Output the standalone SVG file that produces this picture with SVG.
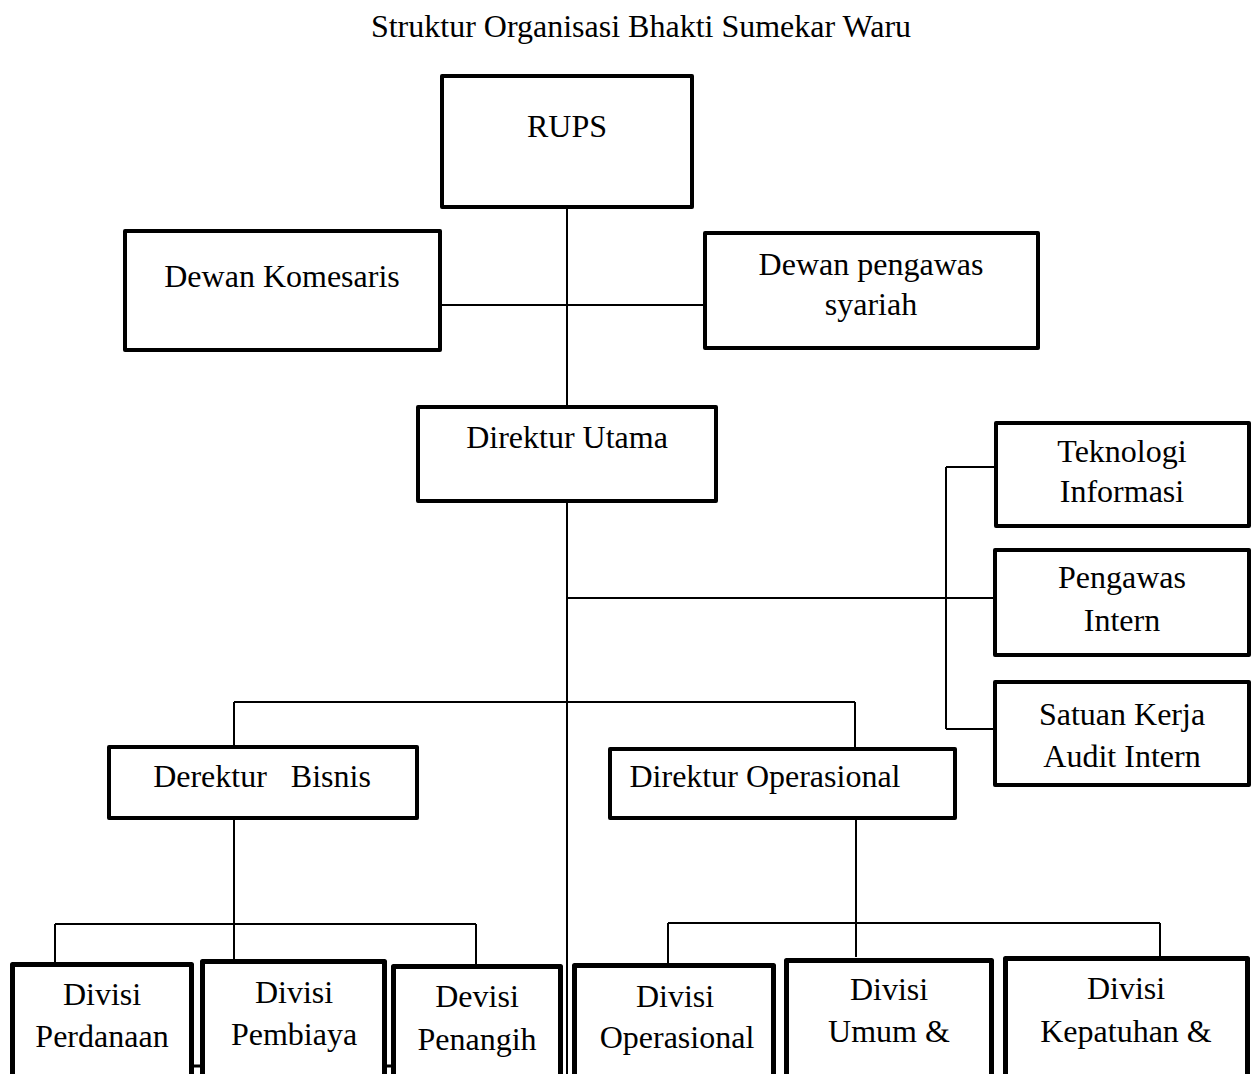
<svg xmlns="http://www.w3.org/2000/svg" width="1252" height="1074" viewBox="0 0 1252 1074">
<style>
text{font-family:"Liberation Serif","Times New Roman",serif;font-size:32px;fill:#000;text-anchor:middle;white-space:pre}
.box{fill:#fff;stroke:#000;stroke-width:4;stroke-linejoin:round}
.bb{fill:#fff;stroke:#000;stroke-width:5;stroke-linejoin:round}
.c{stroke:#000;stroke-width:2;fill:none}
</style>
<rect width="1252" height="1074" fill="#fff"/>
<text x="641" y="37">Struktur Organisasi Bhakti Sumekar Waru</text>
<g id="connectors">
<path class="c" d="M567 209V405M442 305H703M567 503V1074M567 598H993M946 467V729M946 467H994M946 729H993M234 702H855M234 702V745M855 702V747M234 820V959M55 924H476M55 924V962M476 924V964M856 820V957M668 923H1160M668 923V963M1160 923V956"/>
<path d="M190 1066H396" stroke="#000" stroke-width="3"/>
</g>
<g id="rups"><rect class="box" x="442" y="76" width="250" height="131"/><text x="567" y="137">RUPS</text></g>
<g id="dewan-komesaris"><rect class="box" x="125" y="231" width="315" height="119"/><text x="282" y="287">Dewan Komesaris</text></g>
<g id="dewan-pengawas"><rect class="box" x="705" y="233" width="333" height="115"/><text x="871" y="275">Dewan pengawas</text><text x="871" y="315">syariah</text></g>
<g id="direktur-utama"><rect class="box" x="418" y="407" width="298" height="94"/><text x="567" y="448">Direktur Utama</text></g>
<g id="teknologi"><rect class="box" x="996" y="423" width="253" height="103"/><text x="1122" y="462">Teknologi</text><text x="1122" y="502">Informasi</text></g>
<g id="pengawas-intern"><rect class="box" x="995" y="550" width="254" height="105"/><text x="1122" y="588">Pengawas</text><text x="1122" y="631">Intern</text></g>
<g id="satuan-kerja"><rect class="box" x="995" y="682" width="254" height="103"/><text x="1122" y="725">Satuan Kerja</text><text x="1122" y="767">Audit Intern</text></g>
<g id="derektur-bisnis"><rect class="box" x="109" y="747" width="308" height="71"/><text x="262" y="787">Derektur   Bisnis</text></g>
<g id="direktur-operasional"><rect class="box" x="610" y="749" width="345" height="69"/><text x="765" y="787">Direktur Operasional</text></g>
<g id="divisi-perdanaan"><rect class="bb" x="12.5" y="964.5" width="179" height="130"/><text x="102" y="1005">Divisi</text><text x="102" y="1047">Perdanaan</text></g>
<g id="divisi-pembiaya"><rect class="bb" x="202.5" y="961.5" width="182" height="130"/><text x="294" y="1003">Divisi</text><text x="294" y="1045">Pembiaya</text></g>
<g id="devisi-penangih"><rect class="bb" x="393.5" y="966.5" width="167" height="130"/><text x="477" y="1007">Devisi</text><text x="477" y="1050">Penangih</text></g>
<g id="divisi-operasional"><rect class="bb" x="574.5" y="965.5" width="199" height="130"/><text x="675" y="1007">Divisi</text><text x="677" y="1048">Operasional</text></g>
<g id="divisi-umum"><rect class="bb" x="786.5" y="960.5" width="205" height="130"/><text x="889" y="1000">Divisi</text><text x="889" y="1042">Umum &amp;</text></g>
<g id="divisi-kepatuhan"><rect class="bb" x="1005.5" y="958.5" width="242" height="130"/><text x="1126" y="999">Divisi</text><text x="1126" y="1042">Kepatuhan &amp;</text></g>
</svg>
